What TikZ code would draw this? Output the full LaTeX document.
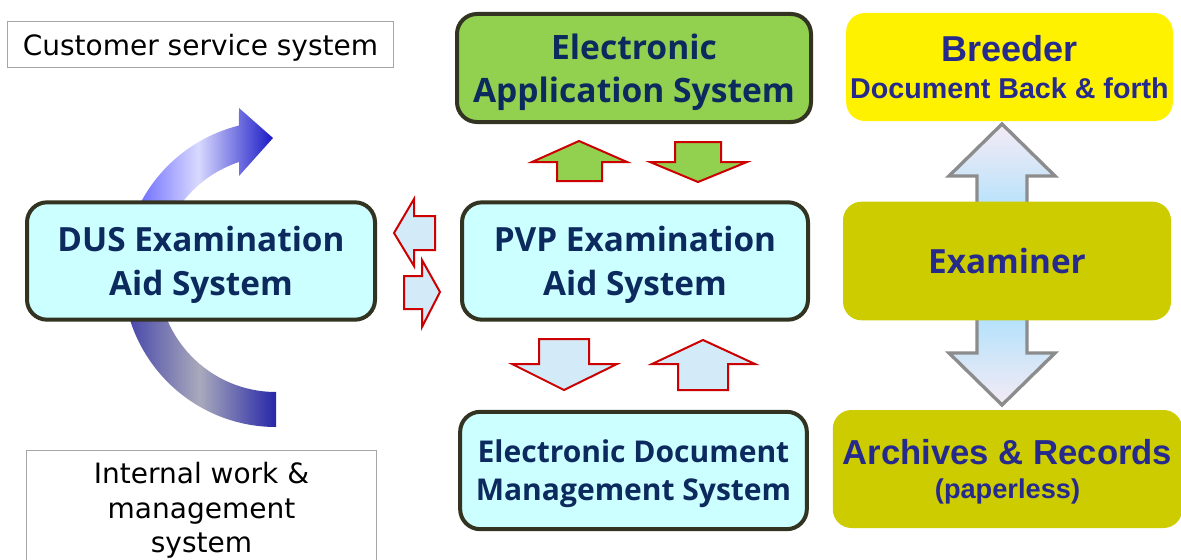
\documentclass[tikz,border=0pt]{standalone}
\usepackage{fontspec}
\setmainfont{DejaVu Sans}
\newfontfamily\boxfont{Open Sans}
\newfontfamily\arialfont{Liberation Sans}
\usetikzlibrary{positioning}
\definecolor{navytext}{HTML}{0C2A5E}
\definecolor{indigotext}{HTML}{262A8C}
\definecolor{boxedge}{HTML}{333322}
\definecolor{aidcyan}{HTML}{CCFFFF}
\definecolor{appgreen}{HTML}{92D050}
\definecolor{olivebox}{HTML}{CCCC00}
\definecolor{arrowred}{HTML}{CC0000}
\definecolor{arrowblue}{HTML}{D3EAF8}
\tikzset{
  sysbox/.style={rounded corners=15pt, draw=boxedge, line width=3pt, fill=aidcyan,
    text=navytext, align=center, font=\boxfont\bfseries\fontsize{25}{32.5}\selectfont,
    minimum width=260pt, minimum height=88pt, inner sep=0pt, text depth=0pt},
  rolebox/.style={rounded corners=14pt, fill=olivebox, text=indigotext, align=center,
    minimum width=246pt, minimum height=89pt, inner sep=0pt},
  plainbox/.style={draw=gray!70, line width=0.75pt, fill=white, align=center,
    font=\fontsize{21}{26}\selectfont, inner sep=0pt, text depth=0pt},
  blkarrow/.style={draw=arrowred, line width=1.5pt, fill=arrowblue, line join=miter},
}

\begin{document}
\begin{tikzpicture}[x=0.75pt,y=-0.75pt]
    \useasboundingbox (0,0) rectangle (1181,560);
    \fill[white] (0,0) rectangle (1181,560);

    % round arrow behind the DUS box
    \path[left color=blue!55!black!75!white, right color=blue!60!black!85!white,
          middle color=blue!12!gray!60]
        (276,392) -- (276,427) arc[start angle=90, end angle=180, radius=153]
        -- (158,274) arc[start angle=180, end angle=90, radius=118] -- cycle;
    \path[left color=blue!68!white, right color=blue!75!black!90, middle color=blue!15!white]
        (123,274) arc[start angle=180, end angle=256, radius=153]
        -- (239,108) -- (273,138) -- (239,176) -- (239,162)
        arc[start angle=251.7, end angle=180, radius=118] -- cycle;

    % double arrow behind the examiner
    \path[draw=gray!90, line width=2.5pt, line join=miter, top color=violet!8,
          bottom color=violet!8, middle color=blue!30!cyan!45]
        (1002,124) -- (1055,176) -- (1027,176) -- (1027,353) -- (1055,353)
        -- (1002,405) -- (949,353) -- (977,353) -- (977,176) -- (949,176) -- cycle;

    \node[plainbox, minimum width=289pt, minimum height=34.5pt] (cust) at (200.5,45)
        {Customer service system};
    \node[plainbox, minimum width=262pt, minimum height=86pt] (intern) at (201.5,507.5)
        {Internal work \&\\management\\system};

    \node[sysbox, minimum width=261pt] (dus) at (201,261) {DUS Examination\\Aid System};
    \node[sysbox, minimum width=259.5pt] (pvp) at (635,261) {PVP Examination\\Aid System};
    \node[sysbox, fill=appgreen, minimum width=265.5pt, minimum height=81pt,
          font=\boxfont\bfseries\fontsize{25.2}{32.5}\selectfont] (eas) at (634,68)
        {Electronic\\Application System};
    \node[sysbox, font=\boxfont\bfseries\fontsize{22.5}{28.5}\selectfont] (edms) at (633.5,470.5)
        {Electronic Document\\Management System};

    \node[rolebox, fill=yellow, minimum width=245pt, minimum height=81pt, text depth=0pt]
        (breeder) at (1009.5,67)
        {\arialfont\bfseries\fontsize{27}{25}\selectfont Breeder\\[11pt]
         \arialfont\bfseries\fontsize{21.5}{25}\selectfont Document Back \& forth};
    \node[rolebox, font=\boxfont\bfseries\fontsize{25}{32}\selectfont] (exam) at (1007,261)
        {Examiner};
    \node[rolebox, minimum width=262pt, minimum height=88.5pt, text depth=0pt] (arch) at (1007.5,469)
        {\arialfont\bfseries\fontsize{26}{28}\selectfont Archives \& Records\\[9pt]
         \arialfont\bfseries\fontsize{20.4}{28}\selectfont (paperless)};

    % small block arrows
    \path[blkarrow, fill=appgreen] (579,141) -- (627,162) -- (602,162) -- (602,181)
        -- (557,181) -- (557,162) -- (532,162) -- cycle;
    \path[blkarrow, fill=appgreen] (675,142) -- (721,142) -- (721,162) -- (747,162)
        -- (698,182) -- (650,162) -- (675,162) -- cycle;
    \path[blkarrow] (539,339) -- (589,339) -- (589,364) -- (617,364)
        -- (564,390) -- (512,364) -- (539,364) -- cycle;
    \path[blkarrow] (703,340) -- (755,364) -- (728,364) -- (728,390)
        -- (678,390) -- (678,364) -- (652,364) -- cycle;
    \path[blkarrow] (394,233) -- (414,199) -- (414,216) -- (435,216)
        -- (435,250) -- (414,250) -- (414,266) -- cycle;
    \path[blkarrow] (440,292) -- (422,327) -- (422,309) -- (404,309)
        -- (404,276) -- (422,276) -- (422,260) -- cycle;
\end{tikzpicture}
\end{document}
